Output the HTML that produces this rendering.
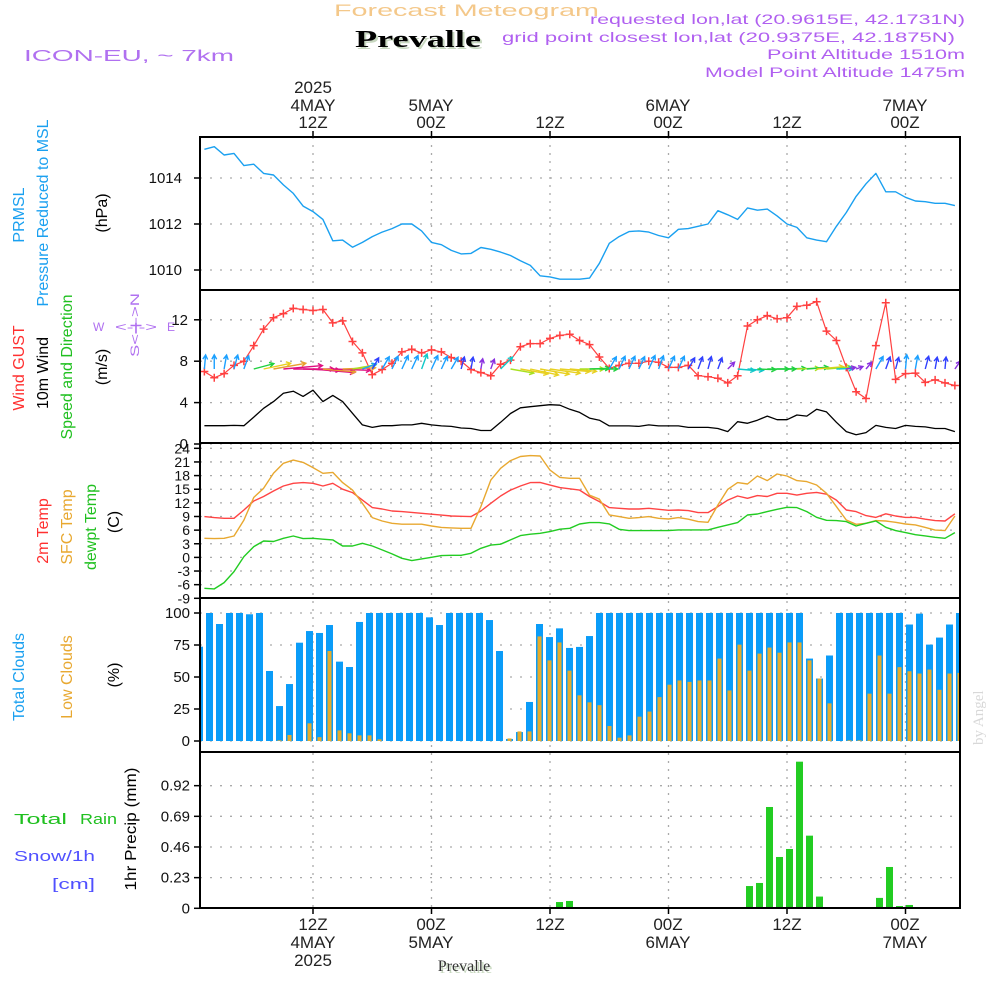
<!DOCTYPE html>
<html><head><meta charset="utf-8"><title>Meteogram Prevalle</title>
<style>
html,body{margin:0;padding:0;background:#fff;}
svg{display:block;font-family:"Liberation Sans Narrow","Liberation Sans",sans-serif;}
</style></head>
<body>
<svg id="chart" width="1000" height="1000" viewBox="0 0 1000 1000" xmlns="http://www.w3.org/2000/svg">
<defs><clipPath id="plotclip"><rect x="200" y="137" width="760" height="771"/></clipPath></defs>
<rect x="0" y="0" width="1000" height="1000" fill="#fff"/>
<g>
<text x="334" y="16" textLength="265" lengthAdjust="spacingAndGlyphs" font-size="17" fill="#f4c88a">Forecast Meteogram</text>
<text x="357" y="49" textLength="126" lengthAdjust="spacingAndGlyphs" font-size="24" font-weight="bold" font-family="Liberation Serif,serif" fill="#c8d8c0">Prevalle</text>
<text x="355" y="47" textLength="126" lengthAdjust="spacingAndGlyphs" font-size="24" font-weight="bold" font-family="Liberation Serif,serif" fill="#000">Prevalle</text>
<text x="24" y="61" textLength="210" lengthAdjust="spacingAndGlyphs" font-size="16" fill="#b070f0">ICON-EU, ~ 7km</text>
<text x="590" y="24" textLength="375" lengthAdjust="spacingAndGlyphs" font-size="14" fill="#b060f0">requested lon,lat (20.9615E, 42.1731N)</text>
<text x="502" y="42" textLength="453" lengthAdjust="spacingAndGlyphs" font-size="14" fill="#b060f0">grid point closest lon,lat (20.9375E, 42.1875N)</text>
<text x="767" y="59" textLength="198" lengthAdjust="spacingAndGlyphs" font-size="14" fill="#b060f0">Point Altitude 1510m</text>
<text x="705" y="77" textLength="260" lengthAdjust="spacingAndGlyphs" font-size="14" fill="#b060f0">Model Point Altitude 1475m</text>
</g>
<g font-size="17" fill="#222" text-anchor="middle">
<text x="313" y="93">2025</text>
<text x="313" y="111">4MAY</text><text x="313" y="128">12Z</text>
<text x="431" y="111">5MAY</text><text x="431" y="128">00Z</text>
<text x="550" y="128">12Z</text>
<text x="668" y="111">6MAY</text><text x="668" y="128">00Z</text>
<text x="787" y="128">12Z</text>
<text x="905" y="111">7MAY</text><text x="905" y="128">00Z</text>
</g>
<g font-size="17" fill="#222" text-anchor="middle">
<text x="313" y="930">12Z</text><text x="313" y="948">4MAY</text><text x="313" y="966">2025</text>
<text x="431" y="930">00Z</text><text x="431" y="948">5MAY</text>
<text x="550" y="930">12Z</text>
<text x="668" y="930">00Z</text><text x="668" y="948">6MAY</text>
<text x="787" y="930">12Z</text>
<text x="905" y="930">00Z</text><text x="905" y="948">7MAY</text>
</g>
<text x="466" y="973" text-anchor="middle" font-family="Liberation Serif,serif" font-size="16" fill="#c8d8c0">Prevalle</text>
<text x="464" y="971" text-anchor="middle" font-family="Liberation Serif,serif" font-size="16" fill="#333">Prevalle</text>
<text transform="translate(983,745) rotate(-90)" font-family="Liberation Serif,serif" font-size="15" fill="#d8d8d8">by Angel</text>

<g font-size="16" text-anchor="middle">
<text transform="translate(24,215) rotate(-90)" fill="#1aa0f0">PRMSL</text>
<text transform="translate(48,213) rotate(-90)" fill="#1aa0f0" textLength="187" lengthAdjust="spacingAndGlyphs">Pressure Reduced to MSL</text>
<text transform="translate(107,213) rotate(-90)" fill="#000">(hPa)</text>
<text transform="translate(24,368) rotate(-90)" fill="#ff3030">Wind GUST</text>
<text transform="translate(48,373) rotate(-90)" fill="#000">10m Wind</text>
<text transform="translate(72,367) rotate(-90)" fill="#20c020" textLength="145" lengthAdjust="spacingAndGlyphs">Speed and Direction</text>
<text transform="translate(107,367) rotate(-90)" fill="#000">(m/s)</text>
<text transform="translate(48,531) rotate(-90)" fill="#ff3030">2m Temp</text>
<text transform="translate(72,527) rotate(-90)" fill="#e8a830">SFC Temp</text>
<text transform="translate(96,527) rotate(-90)" fill="#20c020">dewpt Temp</text>
<text transform="translate(119,522) rotate(-90)" fill="#000">(C)</text>
<text transform="translate(24,677) rotate(-90)" fill="#1aa0f0">Total Clouds</text>
<text transform="translate(72,677) rotate(-90)" fill="#e8a830">Low Clouds</text>
<text transform="translate(119,675) rotate(-90)" fill="#000">(%)</text>
<text transform="translate(136,829) rotate(-90)" fill="#000" textLength="123" lengthAdjust="spacingAndGlyphs">1hr Precip (mm)</text>
</g>
<text x="14" y="824" font-size="15" fill="#20c020" textLength="53" lengthAdjust="spacingAndGlyphs">Total</text>
<text x="80" y="824" font-size="15" fill="#20c020" textLength="37" lengthAdjust="spacingAndGlyphs">Rain</text>
<text x="14" y="861" font-size="15" fill="#5050ff" textLength="81" lengthAdjust="spacingAndGlyphs">Snow/1h</text>
<text x="52" y="889" font-size="15" fill="#5050ff" textLength="43" lengthAdjust="spacingAndGlyphs">[cm]</text>
<g font-size="12" fill="#b070f0">
<text x="93" y="331">W</text>
<text x="115" y="331" textLength="42" lengthAdjust="spacingAndGlyphs">&lt;-|-&gt;</text>
<text x="167" y="331">E</text>
<text transform="translate(139,357) rotate(-90)" textLength="64" lengthAdjust="spacingAndGlyphs">S&lt;-|-&gt;N</text>
</g>

<g id="grid"></g>
<g id="marks" clip-path="url(#plotclip)"></g>
<g id="frames"></g>
<g id="ticks" font-size="15" fill="#111" text-anchor="end"></g>
</svg>
<script>
const pressure = [1015.25,1015.36,1015.0,1015.07,1014.54,1014.6,1014.2,1014.13,1013.7,1013.33,
1012.78,1012.54,1012.2,1011.27,1011.3,1010.99,1011.2,1011.45,1011.65,1011.8,
1012.0,1012.0,1011.7,1011.2,1011.1,1010.85,1010.7,1010.72,1010.98,1010.9,
1010.78,1010.63,1010.4,1010.2,1009.75,1009.7,1009.6,1009.6,1009.6,1009.65,
1010.29,1011.16,1011.45,1011.67,1011.7,1011.65,1011.5,1011.4,1011.77,1011.8,
1011.9,1012.0,1012.58,1012.4,1012.2,1012.7,1012.6,1012.65,1012.35,1012.0,
1011.85,1011.4,1011.3,1011.23,1011.9,1012.5,1013.2,1013.75,1014.2,1013.4,
1013.4,1013.16,1013.0,1012.97,1012.9,1012.9,1012.8];
const gust = [7.0,6.4,6.8,7.6,8.0,9.5,11.1,12.2,12.6,13.1,
13.0,12.9,13.0,11.7,11.9,9.9,8.8,6.7,7.2,7.8,
8.9,9.15,8.8,9.1,8.9,8.35,8.0,7.2,6.9,6.6,
7.7,8.1,9.4,9.7,9.7,10.2,10.5,10.6,10.0,9.6,
8.4,7.3,7.6,7.8,7.8,8.0,7.9,7.4,7.4,7.6,
6.6,6.5,6.35,5.9,6.6,11.4,12.0,12.4,12.1,12.2,
13.3,13.4,13.75,10.9,10.0,7.4,5.05,4.4,9.5,13.65,
6.25,6.8,6.85,5.95,6.2,5.9,5.65];
const windSpeed = [1.77,1.77,1.77,1.8,1.77,2.6,3.45,4.1,4.9,5.1,
4.6,5.2,4.1,4.7,4.1,2.97,1.85,1.6,1.77,1.77,
1.85,1.85,2.0,1.85,1.75,1.7,1.55,1.5,1.3,1.3,
2.1,2.95,3.5,3.6,3.7,3.8,3.75,3.35,3.05,2.5,
2.3,1.75,1.75,1.75,1.7,1.85,1.75,1.75,1.75,1.6,
1.6,1.6,1.5,1.2,2.15,2.0,2.3,2.7,2.35,2.35,
2.8,2.7,3.35,3.1,2.1,1.2,0.9,1.1,1.8,1.6,
1.5,1.8,1.7,1.65,1.5,1.5,1.2];
const windDir = [5,0,10,15,20,
75,78,80,85,90,92,95,95,92,88,80,70,
30,30,25,25,25,20,25,25,30,
15,10,10,20,45,
100,100,102,100,98,95,95,90,88,90,
30,25,25,25,25,20,25,25,30,20,15,20,45,
95,95,92,90,90,88,88,85,85,85,88,80,70,
40,30,20,15,5,10,15,10,5,35];
const temp2m = [8.97,8.75,8.6,8.6,10.43,12.4,13.4,14.6,15.7,16.3,
16.45,16.3,15.7,16.3,15.0,14.25,12.6,10.95,10.65,10.2,
10.07,9.9,9.7,9.5,9.3,9.1,9.04,8.97,10.2,11.9,
13.5,14.8,15.7,16.45,16.5,15.9,15.35,15.1,14.8,13.4,
12.27,10.95,10.8,10.65,10.65,10.8,10.58,10.36,10.43,10.3,
9.85,9.85,11.17,12.6,13.5,13.0,13.6,13.4,14.1,14.1,
13.7,14.1,14.3,13.9,12.6,10.43,10.07,9.2,8.8,9.6,
9.1,8.8,8.8,8.4,8.1,8.0,9.6];
const sfcTemp = [4.2,4.13,4.2,4.7,8.2,13.2,15.2,18.5,20.7,21.4,
20.9,19.75,18.5,18.7,16.45,14.8,11.9,8.75,8.0,7.5,
7.3,7.3,7.3,6.9,6.6,6.5,6.4,6.4,11.2,17.0,
19.6,21.3,22.2,22.4,22.3,19.2,17.6,17.4,17.4,13.7,
12.8,9.35,8.97,8.6,8.75,8.97,8.6,8.45,8.75,8.4,
7.87,7.72,11.53,14.98,16.45,16.15,17.9,16.9,18.35,17.9,
16.9,16.67,15.93,14.1,11.17,8.23,7.28,7.5,8.1,8.0,
7.72,7.35,7.14,6.6,6.0,5.9,9.1];
const dewpoint = [-6.8,-6.94,-5.55,-3.13,0.17,2.37,3.6,3.5,4.2,4.7,
4.13,4.2,4.0,3.84,2.5,2.5,3.1,2.5,1.64,0.76,
-0.2,-0.71,-0.34,0.02,0.39,0.46,0.46,0.9,2.0,2.7,
2.9,3.84,4.8,5.1,5.3,5.67,6.2,6.4,7.35,7.65,
7.65,7.36,6.18,5.9,5.9,5.9,5.9,5.9,6.04,6.04,
6.04,6.04,6.62,7.14,7.65,9.33,9.55,10.07,10.58,11.02,
10.95,10.07,8.82,8.16,8.09,7.87,6.9,7.5,8.0,6.62,
5.9,5.45,5.0,4.72,4.42,4.2,5.45];
const totalClouds = [73.7,100,91.4,100,100,99,100,54.7,27.3,44.5,
76.8,85.9,84.4,90.6,62,57.8,93,100,100,100,
100,100,100,96.6,90.6,100,100,100,100,94.5,
70.3,1.6,7,30.5,91.4,81.2,88,72.7,73.5,82,
100,100,100,100,100,100,100,100,100,100,
100,100,100,100,100,100,100,100,100,100,
100,64.4,48.8,66.8,100,100,100,100,100,100,
100,91,99.5,75.3,80.8,91,100];
const lowClouds = [0,0,0,0,0,0,0,0,0.5,4.7,
0,13.8,3,70.3,8.3,6,4.4,4.4,1.3,0,
0,0,0,0,0,0,0,0,0,0,
0,2,7.5,7.5,81.7,63,77,55,35.7,30.2,
28,11.7,2.6,4.4,19,23,34.3,44,47.3,46.2,
47.3,47.3,64.4,39.5,75.3,55,68.3,73,69,77,
77,63,48.8,29.4,0,0.5,0.5,37,66.8,37,
57.7,54.5,52.7,55.8,40,52.7,53.2];
const precip = [0,0,0,0,0,0,0,0,0,0, 0,0,0,0,0,0,0,0,0,0, 0,0,0,0,0,0,0,0,0,0,
0,0,0,0,0,0,0.047,0.055,0,0, 0,0,0,0,0,0,0,0,0,0,
0,0,0,0,0,0.167,0.19,0.76,0.385,0.445, 1.10,0.545,0.088,0,0,0,0,0,0.078,0.31,
0.017,0.025,0,0,0,0,0];
const pressureTicks = [1010,1012,1014];
const windTicks = [0,4,8,12];
const tempTicks = [-9,-6,-3,0,3,6,9,12,15,18,21,24];
const cloudTicks = [0,25,50,75,100];
const precipTicks = [0,0.23,0.46,0.69,0.92];
const timeGridHours = [12,24,36,48,60,72];

const xT = h => 313 + (h - 12) * 9.875;
const xL = i => xT(i + 1);
const xB = k => 199.5 + 10 * k;
const yP = v => 178 - (v - 1014) * 23;
const yW = v => 444 - v * 10.35;
const yTm = v => 557.4 - v * 4.545;
const yC = v => 741 - v * 1.28;
const yR = v => 908.3 - v * 133.3;

const NS = 'http://www.w3.org/2000/svg';
function mk(tag, attrs, parent) {
  const e = document.createElementNS(NS, tag);
  for (const k in attrs) e.setAttribute(k, attrs[k]);
  parent.appendChild(e);
  return e;
}
const grid = document.getElementById('grid');
const marks = document.getElementById('marks');
const frames = document.getElementById('frames');
const ticks = document.getElementById('ticks');

const panels = [
  {top:137,bot:290,ticks:pressureTicks,y:yP,lab:v=>String(v),lx:182,name:'pressure'},
  {top:290,bot:443,ticks:windTicks,y:yW,lab:v=>String(v),lx:188,name:'wind'},
  {top:443,bot:598,ticks:tempTicks,y:yTm,lab:v=>String(v),lx:190,name:'temp'},
  {top:598,bot:752,ticks:cloudTicks,y:yC,lab:v=>String(v),lx:190,name:'cloud'},
  {top:752,bot:908,ticks:precipTicks,y:yR,lab:v=>v===0?'0':v.toFixed(2),lx:190,name:'precip'}
];
panels.forEach(p => {
  p.ticks.forEach(v => {
    const y = p.y(v);
    const gl = mk('line',{x1:200,x2:960,y1:y,y2:y,stroke:'#aaa','stroke-width':1.3,'stroke-dasharray':'2 8'},grid);
    
    
    const tm = mk('line',{x1:194,x2:200,y1:y,y2:y,stroke:'#000','stroke-width':1.5},ticks);
    
    
    const tl = mk('text',{x:p.lx,y:y+5,'font-size':p.name==='temp'?14:15},ticks);
    tl.textContent = p.lab(v);
    
    
  });
  const fr = mk('rect',{x:200,y:p.top,width:760,height:p.bot-p.top,fill:'none',stroke:'#000','stroke-width':2},frames);
  
  
});
timeGridHours.forEach(h => {
  const x = xT(h);
  const vl = mk('line',{x1:x,x2:x,y1:137,y2:908,stroke:'#aaa','stroke-width':1.3,'stroke-dasharray':'2 6'},grid);
  
  
  const t1 = mk('line',{x1:x,x2:x,y1:131,y2:137,stroke:'#000','stroke-width':1.5},frames);
  
  
  const t2 = mk('line',{x1:x,x2:x,y1:908,y2:914,stroke:'#000','stroke-width':1.5},frames);
  
  
});

function polyline(vals, yf, color, name, w) {
  const pts = vals.map((v,i) => xL(i).toFixed(1) + ',' + yf(v).toFixed(1)).join(' ');
  const pl = mk('polyline',{points:pts,fill:'none',stroke:color,'stroke-width':w||1.4,'stroke-linejoin':'round'},marks);
  
  
}

totalClouds.forEach((v,k) => {
  const r = mk('rect',{x:xB(k)-3.5,y:yC(v),width:7,height:yC(0)-yC(v),fill:'#0a9cf8'},marks);
  
  
});
lowClouds.forEach((v,k) => {
  if (v <= 0) return;
  const r = mk('rect',{x:xB(k)-2,y:yC(v),width:4,height:yC(0)-yC(v),fill:'#e6ac2c'},marks);
  
  
});
precip.forEach((v,k) => {
  if (v <= 0) return;
  const r = mk('rect',{x:xB(k)-3.5,y:yR(v),width:7,height:yR(0)-yR(v),fill:'#22cc22'},marks);
  
  
});
polyline(pressure, yP, '#1aa0f0', 'pressure-line', 1.4);
polyline(temp2m, yTm, '#ff4444', 'temp-2m-line', 1.4);
polyline(sfcTemp, yTm, '#e8a830', 'sfc-temp-line', 1.4);
polyline(dewpoint, yTm, '#22cc22', 'dewpoint-line', 1.4);
polyline(windSpeed, yW, '#000', 'wind-speed-line', 1.3);
polyline(gust, yW, '#ff4040', 'gust-line', 1.2);
gust.forEach((v,i) => {
  const x = xL(i), y = yW(v);
  const p = mk('path',{d:`M${x-4},${y}H${x+4}M${x},${y-4}V${y+4}`,stroke:'#ff4040','stroke-width':1.5},marks);
  
  
});
function windColor(s) {
  if (s < 1.4) return '#8a30e0';
  if (s < 1.7) return '#3040ff';
  if (s < 2.0) return '#1aa0ff';
  if (s < 2.3) return '#10c8c8';
  if (s < 2.8) return '#20d040';
  if (s < 3.3) return '#a8e020';
  if (s < 3.9) return '#e8d020';
  if (s < 4.5) return '#e8a030';
  return '#e01080';
}
windSpeed.forEach((s,i) => {
  const a = windDir[i] * Math.PI / 180;
  const L = s * 8;
  const x0 = xL(i), y0 = 369;
  const x1 = x0 + Math.sin(a) * L, y1 = y0 - Math.cos(a) * L;
  const hl = 5, ha = 0.5;
  const back = Math.atan2(y0 - y1, x0 - x1);
  const hx1 = x1 + Math.cos(back + ha) * hl, hy1 = y1 + Math.sin(back + ha) * hl;
  const hx2 = x1 + Math.cos(back - ha) * hl, hy2 = y1 + Math.sin(back - ha) * hl;
  const p = mk('path',{d:`M${x0},${y0}L${x1},${y1}M${hx1},${hy1}L${x1},${y1}L${hx2},${hy2}`,
    stroke:windColor(s),'stroke-width':1.4,fill:'none'},marks);
  
  
});
</script>
</body></html>
